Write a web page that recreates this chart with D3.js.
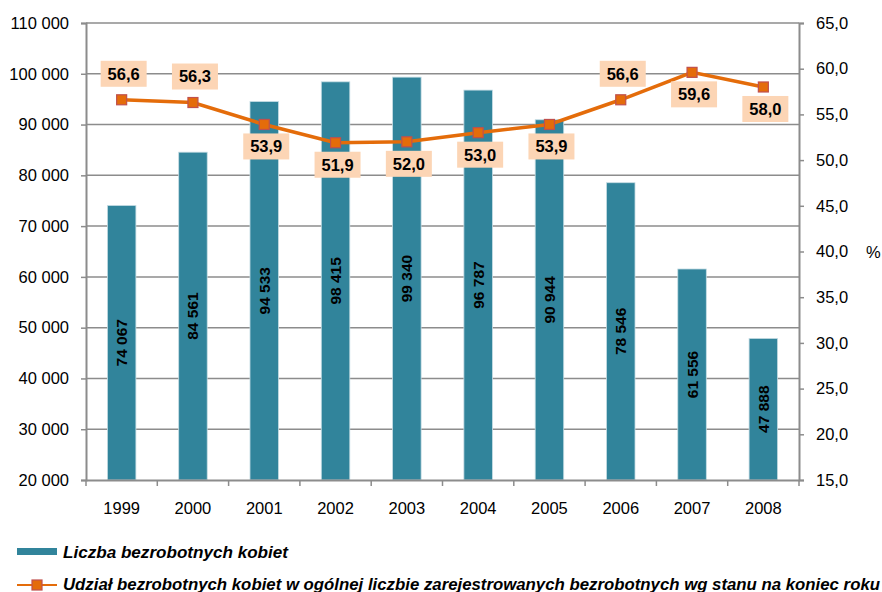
<!DOCTYPE html>
<html>
<head>
<meta charset="utf-8">
<script src="https://cdn.jsdelivr.net/npm/d3@7"></script>
<style>
  body { margin: 0; background: #fff; }
  svg { display: block; font-family: "Liberation Sans", Arial, sans-serif; }
</style>
</head>
<body>
<svg id="chart" width="882" height="592"></svg>
<script>
// dane
var years = ['1999','2000','2001','2002','2003','2004','2005','2006','2007','2008'];
var kobiety = [74067, 84561, 94533, 98415, 99340, 96787, 90944, 78546, 61556, 47888];
var udzial = [56.6, 56.3, 53.9, 51.9, 52.0, 53.0, 53.9, 56.6, 59.6, 58.0];
var labelPos = ['up','up','down','down','down','down','down','up','down','down']; // etykiety linii
var leftTicks = [20000, 30000, 40000, 50000, 60000, 70000, 80000, 90000, 100000, 110000];
var rightTicks = [15, 20, 25, 30, 35, 40, 45, 50, 55, 60, 65];
var legendNames = ['Liczba bezrobotnych kobiet',
  'Udział bezrobotnych kobiet w ogólnej liczbie zarejestrowanych bezrobotnych wg stanu na koniec roku'];

(function(){
var barColor = '#31849b', lineColor = '#e46c0a', gridColor = '#8c8c8c';

var svg = d3.select('#chart');
var pLeft = 86, pRight = 799, pTop = 23, pBottom = 480;

var x = d3.scaleBand().domain(years).range([pLeft, pRight]).paddingInner(0.6).paddingOuter(0.3);
var xc = d3.scaleBand().domain(years).range([pLeft, pRight]); // do podziałek
var y = d3.scaleLinear().domain([20000, 110000]).range([pBottom, pTop]);
var y2 = d3.scaleLinear().domain([15, 65]).range([pBottom, pTop]);

var fmtNum = function(v){ return d3.format(',')(v).replace(/,/g, ' '); };
var fmtPct = function(v){ return d3.format('.1f')(v).replace('.', ','); };

// siatka
svg.append('g').selectAll('line').data(leftTicks.slice(1)).enter().append('line')
  .attr('x1', pLeft).attr('x2', pRight)
  .attr('y1', function(d){ return y(d); }).attr('y2', function(d){ return y(d); })
  .attr('stroke', gridColor).attr('stroke-width', 1.5);

// słupki
svg.append('g').selectAll('rect').data(kobiety).enter().append('rect')
  .attr('x', function(d,i){ return x(years[i]); })
  .attr('y', function(d){ return y(d); })
  .attr('width', x.bandwidth())
  .attr('height', function(d){ return pBottom - y(d); })
  .attr('fill', barColor)
  .attr('stroke', '#c6dde4').attr('stroke-width', 0.8);

// etykiety słupków (obrócone)
svg.append('g').selectAll('text').data(kobiety).enter().append('text')
  .attr('transform', function(d,i){
    var cx = x(years[i]) + x.bandwidth()/2, cy = (y(d) + pBottom)/2;
    return 'translate(' + (cx + 5.5) + ',' + cy + ') rotate(-90)';
  })
  .attr('text-anchor', 'middle')
  .attr('font-size', 15.5).attr('font-weight', 'bold').attr('fill', '#000')
  .text(function(d){ return fmtNum(d); });

// osie
var gL = svg.append('g').attr('transform', 'translate(' + pLeft + ',0)')
  .call(d3.axisLeft(y).tickValues(leftTicks).tickSize(5).tickPadding(12).tickFormat(fmtNum));
var gR = svg.append('g').attr('transform', 'translate(' + pRight + ',0)')
  .call(d3.axisRight(y2).tickValues(rightTicks).tickSize(5).tickPadding(12).tickFormat(fmtPct));
var gB = svg.append('g').attr('transform', 'translate(0,' + pBottom + ')')
  .call(d3.axisBottom(xc).tickSize(0).tickPadding(22));
// podziałki między kategoriami
gB.selectAll('.sep').data(d3.range(years.length + 1)).enter().append('line')
  .attr('class', 'sep')
  .attr('x1', function(i){ return pLeft + i * xc.step(); })
  .attr('x2', function(i){ return pLeft + i * xc.step(); })
  .attr('y1', 0).attr('y2', 6);

[gL, gR, gB].forEach(function(g){
  g.selectAll('path.domain').attr('stroke', gridColor).attr('stroke-width', 2);
  g.selectAll('line').attr('stroke', gridColor).attr('stroke-width', 1.5);
  g.selectAll('text').attr('font-size', 16.5).attr('fill', '#000')
    .attr('font-family', '"Liberation Sans", Arial, sans-serif');
});

svg.append('text').attr('x', 866).attr('y', 258).attr('font-size', 16.5).text('%');

// linia
var cx = function(i){ return x(years[i]) + x.bandwidth()/2; };
svg.append('path').datum(udzial)
  .attr('d', d3.line().x(function(d,i){ return cx(i); }).y(function(d){ return y2(d); }))
  .attr('fill', 'none').attr('stroke', lineColor).attr('stroke-width', 3.5);
svg.append('g').selectAll('rect').data(udzial).enter().append('rect')
  .attr('x', function(d,i){ return cx(i) - 5; })
  .attr('y', function(d){ return y2(d) - 5; })
  .attr('width', 10).attr('height', 10)
  .attr('fill', lineColor).attr('stroke', '#c0504d').attr('stroke-width', 1.2);

// etykiety linii
var lab = svg.append('g').selectAll('g').data(udzial).enter().append('g')
  .attr('transform', function(d,i){
    var ly = y2(d) + (labelPos[i] === 'up' ? -26 : 22);
    return 'translate(' + (cx(i) + 2) + ',' + ly + ')';
  });
lab.append('rect').attr('x', -23).attr('y', -13).attr('width', 46).attr('height', 26)
  .attr('fill', '#fcd5b5');
lab.append('text').attr('text-anchor', 'middle').attr('dy', '0.36em')
  .attr('font-size', 16.5).attr('font-weight', 'bold').text(function(d){ return fmtPct(d); });

// legenda
var lg = svg.append('g');
lg.append('rect').attr('x', 17).attr('y', 548).attr('width', 40).attr('height', 7).attr('fill', barColor);
lg.append('text').attr('x', 63).attr('y', 558).attr('font-size', 16.5)
  .attr('font-weight', 'bold').attr('font-style', 'italic')
  .attr('textLength', 225).attr('lengthAdjust', 'spacingAndGlyphs').text(legendNames[0]);
lg.append('line').attr('x1', 17).attr('x2', 57).attr('y1', 585).attr('y2', 585)
  .attr('stroke', lineColor).attr('stroke-width', 2);
lg.append('rect').attr('x', 32).attr('y', 580).attr('width', 10).attr('height', 10)
  .attr('fill', lineColor).attr('stroke', '#c0504d').attr('stroke-width', 1.2);
lg.append('text').attr('x', 63).attr('y', 590).attr('font-size', 16.5)
  .attr('font-weight', 'bold').attr('font-style', 'italic')
  .attr('textLength', 817).attr('lengthAdjust', 'spacingAndGlyphs').text(legendNames[1]);
})();
</script>
</body>
</html>
